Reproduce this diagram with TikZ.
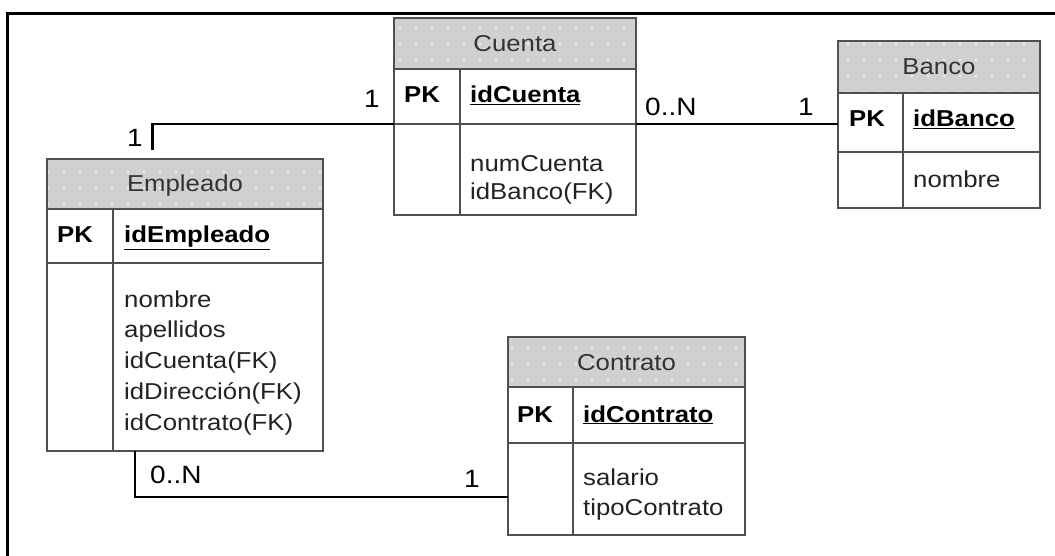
\documentclass[tikz,border=0pt]{standalone}
\usepackage{fontspec}
\setmainfont{Liberation Sans}[FakeStretch=1.12]
\usetikzlibrary{patterns.meta}

\definecolor{headgray}{HTML}{D0D0D0}
\definecolor{linegray}{HTML}{505050}
\definecolor{titletext}{HTML}{333333}
\definecolor{bodytext}{HTML}{222222}

\tikzset{
  tableline/.style={draw=linegray, line width=2pt},
  tablebox/.style={tableline, rectangle, inner sep=0pt, outer sep=0pt},
  conn/.style={draw=black, line width=2.6pt},
  titlelabel/.style={anchor=base, inner sep=0pt, text=titletext, font=\fontsize{23}{28}\selectfont},
  pklabel/.style={anchor=base west, inner sep=0pt, text=black, font=\fontsize{23}{28}\selectfont\bfseries},
  keylabel/.style={anchor=base west, inner sep=0pt, text=black, font=\fontsize{23}{28}\selectfont\bfseries},
  attrlabel/.style={anchor=base west, inner sep=0pt, text=bodytext, font=\fontsize{23}{28}\selectfont},
  cardlabel/.style={anchor=base, inner sep=0pt, text=black, font=\fontsize{25}{30}\selectfont},
}

% \ertable{name}{left}{top}{right}{header bottom}{key row bottom}{bottom}{column x}{title}
\newcommand{\ertable}[9]{%
  \pgfmathsetmacro{\tw}{#4-#2}%
  \pgfmathsetmacro{\th}{#7-#3}%
  \fill[headgray] (#2,#3) rectangle (#4,#5);
  \fill[pattern={Dots[distance=16pt,radius=1.1pt]}, pattern color=white] (#2,#3) rectangle (#4,#5);
  \node[tablebox, minimum width=\tw pt, minimum height=\th pt, anchor=north west] (#1) at (#2,#3) {};
  \draw[tableline] (#2,#5) -- (#4,#5);
  \draw[tableline] (#2,#6) -- (#4,#6);
  \draw[tableline] (#8,#5) -- (#8,#7);
  \coordinate (#1-keyw) at (#2,#6);
  \coordinate (#1-keye) at (#4,#6);
  \node[titlelabel] (#1-title) at ({(#2+#4)/2},{(#3+#5)/2+8}) {#9};
}

\begin{document}
\begin{tikzpicture}[x=1pt, y=-1pt]
  \useasboundingbox (0,0) rectangle (1055,556);

  % outer frame (top and left edges)
  \draw[line width=3pt, line cap=rect] (7.3,560) -- (7.3,13.3) -- (1060,13.3);

  % Cuenta
  \ertable{cuenta}{394}{18}{636}{69}{124}{215}{460}{Cuenta}
  \node[pklabel] (cuenta-pk) at (404,103) {PK};
  \node[keylabel] (cuenta-key) at (470,103) {\underline{idCuenta}};
  \node[attrlabel] (cuenta-a1) at (470,172) {numCuenta};
  \node[attrlabel] (cuenta-a2) at (470,200) {idBanco(FK)};

  % Banco
  \ertable{banco}{838}{41}{1040}{93}{152}{208}{903}{Banco}
  \node[pklabel] (banco-pk) at (849,127) {PK};
  \node[keylabel] (banco-key) at (913,127) {\underline{idBanco}};
  \node[attrlabel] (banco-a1) at (913,188) {nombre};

  % Empleado
  \ertable{empleado}{47}{159}{323}{209}{263}{451}{113}{Empleado}
  \node[pklabel] (empleado-pk) at (57,243) {PK};
  \node[keylabel] (empleado-key) at (124,243) {\underline{idEmpleado}};
  \node[attrlabel] (empleado-a1) at (124,307) {nombre};
  \node[attrlabel] (empleado-a2) at (124,337.5) {apellidos};
  \node[attrlabel] (empleado-a3) at (124,368) {idCuenta(FK)};
  \node[attrlabel] (empleado-a4) at (124,399) {idDirección(FK)};
  \node[attrlabel] (empleado-a5) at (124,430) {idContrato(FK)};

  % Contrato
  \ertable{contrato}{508}{337}{745}{387}{443}{535}{573}{Contrato}
  \node[pklabel] (contrato-pk) at (517,422) {PK};
  \node[keylabel] (contrato-key) at (583,422) {\underline{idContrato}};
  \node[attrlabel] (contrato-a1) at (583,485) {salario};
  \node[attrlabel] (contrato-a2) at (583,515) {tipoContrato};

  % connector end points
  \coordinate (emp-top) at (152.5,150);
  \coordinate (emp-bot) at (135,451);
  \coordinate (con-in) at (508,497);

  % relationships
  \draw[conn] (cuenta-keyw) -| (emp-top);
  \draw[conn] (cuenta-keye) -- (banco.west |- cuenta-keye);
  \draw[conn] (emp-bot) |- (con-in);

  % cardinalities
  \node[cardlabel] (c-cuenta-emp) at (372,108) {1};
  \node[cardlabel] (c-emp-cuenta) at (135,147) {1};
  \node[cardlabel, anchor=base west] (c-cuenta-banco) at (645,116) {0..N};
  \node[cardlabel] (c-banco-cuenta) at (806,116) {1};
  \node[cardlabel, anchor=base west] (c-emp-contrato) at (150,483) {0..N};
  \node[cardlabel] (c-contrato-emp) at (472,487) {1};
\end{tikzpicture}
\end{document}
